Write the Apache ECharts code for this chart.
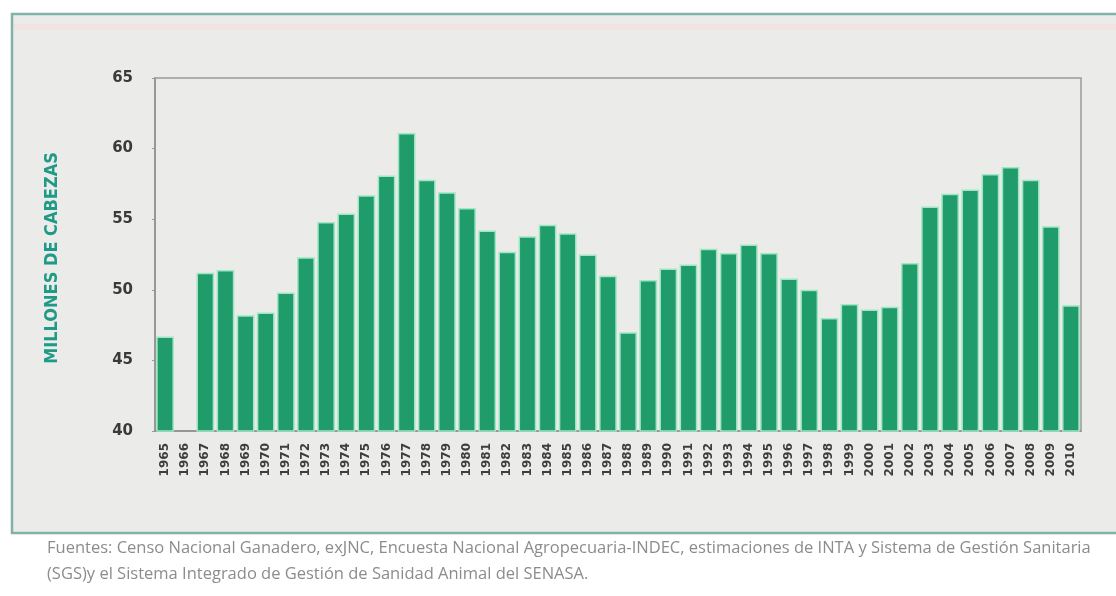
<!DOCTYPE html>
<html>
<head>
<meta charset="utf-8">
<title>Existencias bovinas 1965-2010</title>
<script src="https://cdn.jsdelivr.net/npm/echarts@6/dist/echarts.min.js"></script>
<style>
  html, body { margin: 0; padding: 0; background: #ffffff; }
  #chart { width: 1116px; height: 596px; }
</style>
</head>
<body>
<div id="chart"></div>
<script>
// Years on the category axis (1966 has no survey figure)
const years = [
  '1965','1966','1967','1968','1969','1970','1971','1972','1973','1974',
  '1975','1976','1977','1978','1979','1980','1981','1982','1983','1984',
  '1985','1986','1987','1988','1989','1990','1991','1992','1993','1994',
  '1995','1996','1997','1998','1999','2000','2001','2002','2003','2004',
  '2005','2006','2007','2008','2009','2010'
];

// Cattle stock, millions of head
const stock = [
  46.7, null, 51.2, 51.4, 48.2, 48.4, 49.8, 52.3, 54.8, 55.4,
  56.7, 58.1, 61.1, 57.8, 56.9, 55.8, 54.2, 52.7, 53.8, 54.6,
  54.0, 52.5, 51.0, 47.0, 50.7, 51.5, 51.8, 52.9, 52.6, 53.2,
  52.6, 50.8, 50.0, 48.0, 49.0, 48.6, 48.8, 51.9, 55.9, 56.8,
  57.1, 58.2, 58.7, 57.8, 54.5, 48.9
];

const yTicks = [40, 45, 50, 55, 60, 65];

const axisTitle = 'MILLONES DE CABEZAS';
const sourceLines = [
  'Fuentes: Censo Nacional Ganadero, exJNC, Encuesta Nacional Agropecuaria-INDEC, estimaciones de INTA y Sistema de Gestión Sanitaria',
  '(SGS)y el Sistema Integrado de Gestión de Sanidad Animal del SENASA.'
];

const condensed = "'DejaVu Sans Condensed', 'Liberation Sans Narrow', 'DejaVu Sans', sans-serif";
const labelFont = "'DejaVu Sans', sans-serif";

const chart = echarts.init(document.getElementById('chart'), null, { renderer: 'canvas' });

chart.setOption({
  animation: false,
  backgroundColor: '#ffffff',
  graphic: [
    // panel behind the chart
    {
      type: 'rect', z: -10, silent: true,
      shape: { x: 12, y: 14, width: 1120, height: 519 },
      style: { fill: '#ebebea', stroke: '#7fb3a9', lineWidth: 2.5 }
    },
    {
      type: 'rect', z: -9, silent: true,
      shape: { x: 14, y: 24, width: 1110, height: 6 },
      style: { fill: 'rgba(250,215,210,0.35)' }
    },
    // source note under the panel
    {
      type: 'text', left: 47, top: 540, silent: true,
      style: { text: sourceLines[0], fill: '#8c8c8c', font: "16.5px 'Open Sans', sans-serif" }
    },
    {
      type: 'text', left: 47, top: 566, silent: true,
      style: { text: sourceLines[1], fill: '#8c8c8c', font: "16.5px 'Open Sans', sans-serif" }
    },
    // vertical axis title
    {
      type: 'text', silent: true,
      x: 52, y: 258, rotation: Math.PI / 2,
      style: {
        text: axisTitle, fill: '#1f9a86',
        font: "bold 18px " + condensed,
        align: 'center', verticalAlign: 'middle'
      }
    }
  ],
  grid: {
    left: 155, right: 35, top: 78, bottom: 165,
    show: true, borderColor: '#9a9a9a', borderWidth: 1.5, backgroundColor: 'transparent'
  },
  xAxis: {
    type: 'category',
    data: years,
    axisLine: { lineStyle: { color: '#8f8f8f', width: 1.5 } },
    axisTick: { show: false },
    axisLabel: {
      interval: 0, rotate: 90, margin: 12,
      color: '#3d3d3d', fontSize: 12, fontWeight: 'bold', fontFamily: labelFont
    }
  },
  yAxis: {
    type: 'value',
    min: yTicks[0], max: yTicks[yTicks.length - 1], interval: 5,
    axisLine: { show: true, lineStyle: { color: '#8f8f8f', width: 1.5 } },
    axisTick: { show: true, length: 3, lineStyle: { color: '#9a9a9a' } },
    splitLine: { show: false },
    axisLabel: {
      margin: 22, color: '#3a3a3a', fontSize: 15, fontWeight: 'bold', fontFamily: labelFont
    }
  },
  series: [{
    type: 'bar',
    data: stock.map(v => v === null ? '-' : v),
    barCategoryGap: '12%',
    itemStyle: { color: '#1f9c6a', borderColor: '#9fe6c3', borderWidth: 1.5 }
  }]
});
</script>
</body>
</html>
